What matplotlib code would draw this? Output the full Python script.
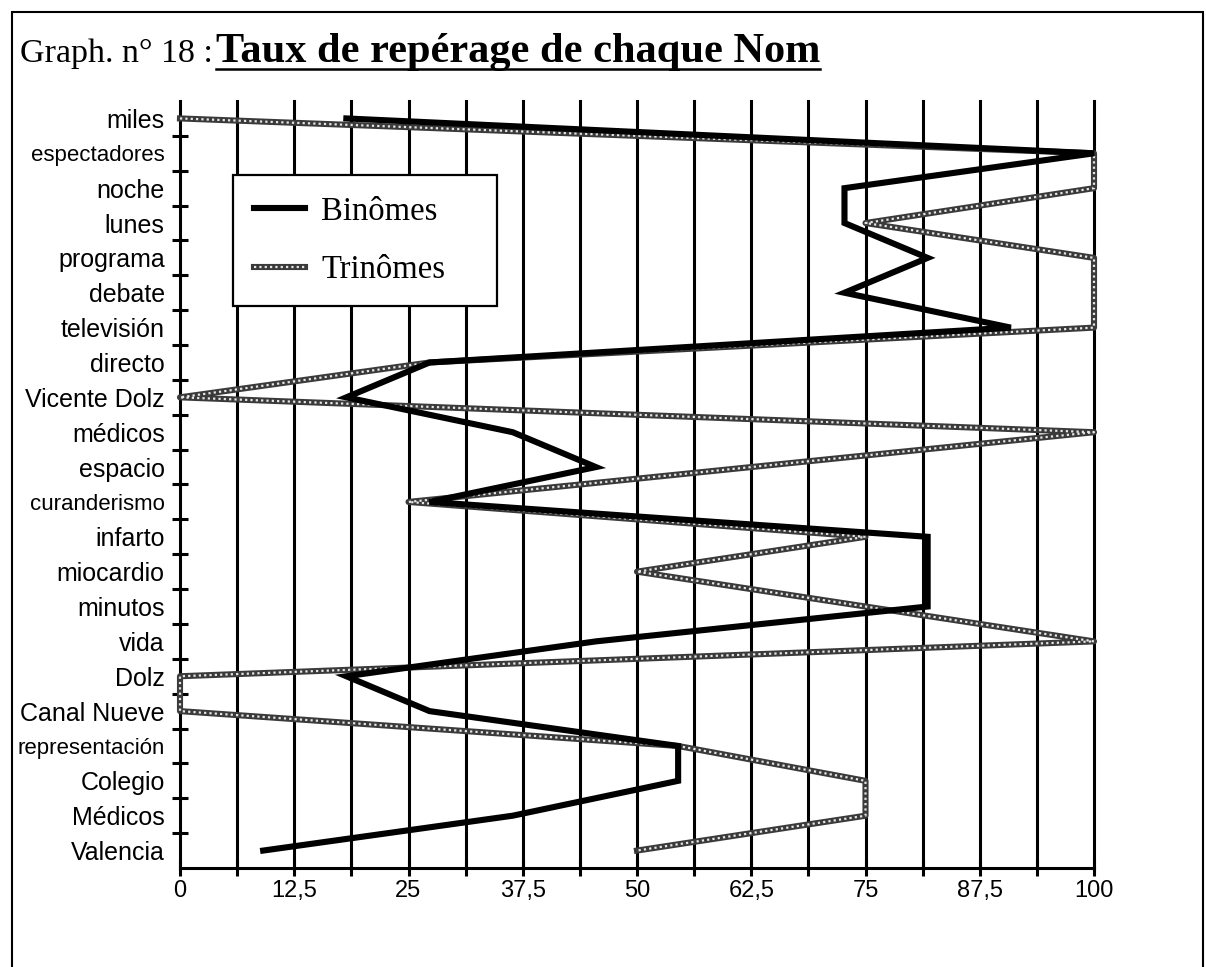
import matplotlib
matplotlib.use("Agg")
import matplotlib.pyplot as plt
import matplotlib.patches as patches
from matplotlib.lines import Line2D
import numpy as np

# categories, top to bottom
categories = ["miles", "espectadores", "noche", "lunes", "programa", "debate",
              "televisión", "directo", "Vicente Dolz", "médicos", "espacio",
              "curanderismo", "infarto", "miocardio", "minutos", "vida", "Dolz",
              "Canal Nueve", "representación", "Colegio", "Médicos", "Valencia"]

binomes = [18.2, 100, 72.7, 72.7, 81.8, 72.7, 90.9, 27.3, 18.2, 36.4, 45.5,
           27.3, 81.8, 81.8, 81.8, 45.5, 18.2, 27.3, 54.5, 54.5, 36.4, 9.1]

trinomes = [0, 100, 100, 75, 100, 100, 100, 27.3, 0, 100, 62.5,
            25, 75, 50, 75, 100, 0, 0, 54.5, 75, 75, 50]

x_labels = ["0", "12,5", "25", "37,5", "50", "62,5", "75", "87,5", "100"]

# labels printed in a narrower face in the original
narrow = ["espectadores", "curanderismo", "representación"]

SANS = "Liberation Sans"
SERIF = "Liberation Serif"

fig = plt.figure(figsize=(12.06, 9.67), dpi=100)
ax = fig.add_axes([180 / 1206, 1 - 868 / 967, 914 / 1206, 767 / 967])

n = len(categories)
ypos = np.arange(n)[::-1]  # miles on top

# grid lines every 6,25
for gx in np.arange(6.25, 100.01, 6.25):
    ax.axvline(gx, color="black", lw=2.2, zorder=1, clip_on=False)

# lines
ax.plot(binomes, ypos, color="black", lw=4.4, solid_joinstyle="miter",
        zorder=4, clip_on=False)
ax.plot(trinomes, ypos, color="#3a3a3a", lw=4.4, zorder=3, clip_on=False)
ax.plot(trinomes, ypos, color="#e6e6e6", lw=1.6, ls=(0, (1, 1.4)),
        zorder=3.5, clip_on=False)

ax.set_xlim(0, 100)
ax.set_ylim(-0.5, n - 0.5)

ax.set_xticks(np.arange(0, 100.01, 12.5))
ax.set_xticklabels(x_labels, fontfamily=SANS, fontsize=17)
ax.set_xticks(np.arange(0, 100.01, 6.25), minor=True)
ax.tick_params(axis="x", which="both", direction="inout", length=11,
               width=2.2, pad=3)

ax.set_yticks(ypos)
ax.set_yticklabels(categories, fontfamily=SANS)
for lab in ax.get_yticklabels():
    lab.set_fontsize(16 if lab.get_text() in narrow else 18)
ax.set_yticks(np.arange(0.5, n - 1, 1.0), minor=True)
ax.tick_params(axis="y", which="major", length=0, pad=11)
ax.tick_params(axis="y", which="minor", direction="inout", length=12,
               width=2.2)

for s in ["top", "right"]:
    ax.spines[s].set_visible(False)
for s in ["left", "bottom"]:
    ax.spines[s].set_linewidth(2.2)
    ax.spines[s].set_zorder(2)

# legend
h_bin = Line2D([], [], color="black", lw=4.4)
h_tri = (Line2D([], [], color="#3a3a3a", lw=4.4),
         Line2D([], [], color="#e6e6e6", lw=1.6, ls=(0, (1, 1.4))))
leg = ax.legend([h_bin, h_tri], ["Binômes", "Trinômes"], loc="upper left",
                bbox_to_anchor=(0.058, 0.734, 0.289, 0.1695), mode="expand",
                borderaxespad=0,
                prop={"family": SERIF, "size": 23.5}, frameon=True,
                fancybox=False, framealpha=1, edgecolor="black",
                handlelength=1.56, handletextpad=0.5, labelspacing=0.85,
                borderpad=0.65)
leg.get_frame().set_linewidth(1.6)
leg.set_zorder(6)

# title
t1 = fig.text(20 / 1206, 1 - 62 / 967, "Graph. n° 18 :", fontfamily=SERIF,
              fontsize=24.5, va="baseline", ha="left")
fig.canvas.draw()
r = fig.canvas.get_renderer()
bb1 = t1.get_window_extent(r)
t2 = fig.text((bb1.x1 + 3) / 1206, 1 - 62 / 967, "Taux de repérage de chaque Nom",
              fontfamily=SERIF, fontsize=30.5, fontweight="bold",
              va="baseline", ha="left")
fig.canvas.draw()
bb2 = t2.get_window_extent(r)
fig.add_artist(Line2D([bb2.x0 / 1206, bb2.x1 / 1206], [1 - 69 / 967, 1 - 69 / 967],
                      color="black", lw=1.8, transform=fig.transFigure))

# outer frame
fig.add_artist(patches.Rectangle((12 / 1206, -0.05), (1203 - 12) / 1206,
                                 1 - 12 / 967 + 0.05, fill=False,
                                 edgecolor="black", lw=1.5,
                                 transform=fig.transFigure))

fig.savefig("out.png", dpi=100)
